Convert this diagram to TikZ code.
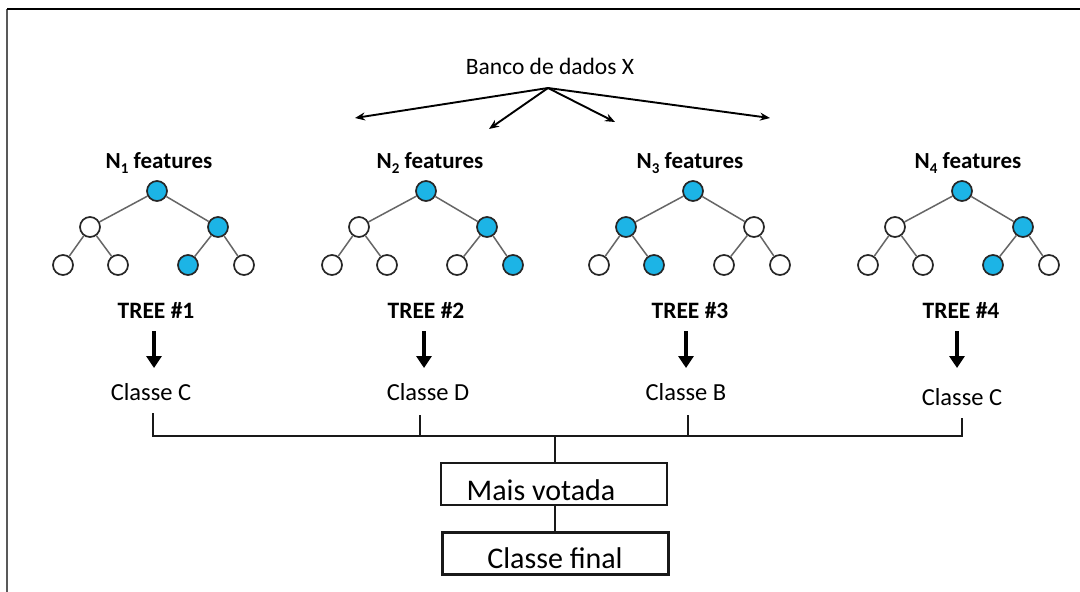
\documentclass[tikz,border=0pt]{standalone}
\usepackage{fontspec}
\setmainfont{Carlito}
\usetikzlibrary{arrows.meta}
\definecolor{nodeblue}{RGB}{28,180,230}
\tikzset{
  tn/.style={circle,draw=black!85,line width=1.7pt,minimum size=20pt,inner sep=0pt,fill=white},
  tb/.style={tn,fill=nodeblue},
  edge/.style={draw=black!60,line width=1.5pt},
  txt/.style={inner sep=0pt,anchor=base,font=\fontsize{24.5}{29}\selectfont},
  bigtxt/.style={inner sep=0pt,anchor=base,font=\fontsize{30}{36}\selectfont},
  ttl/.style={inner sep=0pt,anchor=base,font=\fontsize{23}{28}\selectfont\bfseries},
  treelbl/.style={inner sep=0pt,anchor=base,font=\fontsize{23.5}{28}\selectfont\bfseries},
  split/.style={draw=black,line width=1.9pt,-{Stealth[length=10pt,width=8pt]}},
  down/.style={draw=black,line width=3.5pt,-{Triangle[length=12pt,width=15pt]}},
  bus/.style={draw=black!90,line width=2.6pt},
  box/.style={draw=black!90,line width=2.6pt,minimum width=226pt,minimum height=42pt,inner sep=0pt}
}
\newcommand\sub[1]{\raisebox{-0.45ex}{\fontsize{15}{18}\selectfont #1}}
\newcommand\drawtree[9]{%
  \node[#3] (#1r) at (#2,191) {};
  \node[#4] (#1a) at ({#2-67},227) {};
  \node[#5] (#1b) at ({#2+61},227) {};
  \node[#6] (#1c) at ({#2-94},265) {};
  \node[#7] (#1d) at ({#2-39},265) {};
  \node[#8] (#1e) at ({#2+31},265) {};
  \node[#9] (#1f) at ({#2+87},265) {};
  \draw[edge] (#1r) -- (#1a);
  \draw[edge] (#1r) -- (#1b);
  \draw[edge] (#1a) -- (#1c);
  \draw[edge] (#1a) -- (#1d);
  \draw[edge] (#1b) -- (#1e);
  \draw[edge] (#1b) -- (#1f);
}
\begin{document}
\begin{tikzpicture}[x=1pt,y=-1pt]
\useasboundingbox (0,0) rectangle (1080,592);
\fill[white] (0,0) rectangle (1080,592);
% frame
\draw[line width=2.4pt,black!65] (7,592) -- (7,9);
\draw[line width=2.4pt,black] (7,9) -- (1080,9);

% source
\node[txt,font=\fontsize{23.5}{28}\selectfont] (banco) at (550,74) {Banco de dados X};
\coordinate (src) at (548,88);
\coordinate (e1) at (355,118);
\coordinate (e2) at (489,129);
\coordinate (e3) at (615,122);
\coordinate (e4) at (770,118);
\draw[split] (src) -- (e1);
\draw[split] (src) -- (e2);
\draw[split] (src) -- (e3);
\draw[split] (src) -- (e4);

% titles
\node[ttl] (n1) at (159,168) {N\sub{1} features};
\node[ttl] (n2) at (430,168) {N\sub{2} features};
\node[ttl] (n3) at (690,168) {N\sub{3} features};
\node[ttl] (n4) at (968,168) {N\sub{4} features};

% trees
\drawtree{ta}{157}{tb}{tn}{tb}{tn}{tn}{tb}{tn}
\drawtree{tbb}{426}{tb}{tn}{tb}{tn}{tn}{tn}{tb}
\drawtree{tc}{693}{tb}{tb}{tn}{tn}{tb}{tn}{tn}
\drawtree{td}{962}{tb}{tn}{tb}{tn}{tn}{tb}{tn}

% tree labels
\node[treelbl] (l1) at (156,318) {TREE \#1};
\node[treelbl] (l2) at (426,318) {TREE \#2};
\node[treelbl] (l3) at (690,318) {TREE \#3};
\node[treelbl] (l4) at (961,318) {TREE \#4};

% classes
\node[txt] (c1) at (151,400) {Classe C};
\node[txt] (c2) at (428,400) {Classe D};
\node[txt] (c3) at (686,400) {Classe B};
\node[txt] (c4) at (962,405) {Classe C};

% arrows down
\coordinate (a1) at (154,331);
\coordinate (a2) at (424,331);
\coordinate (a3) at (686,331);
\coordinate (a4) at (957,331);
\draw[down] (a1) -- (a1 |- 0,368);
\draw[down] (a2) -- (a2 |- 0,368);
\draw[down] (a3) -- (a3 |- 0,368);
\draw[down] (a4) -- (a4 |- 0,368);

% bus
\coordinate (v1) at (153,413);
\coordinate (v2) at (420,415);
\coordinate (v3) at (688,415);
\coordinate (v4) at (962,418);
\coordinate (hub) at (555,436);
\draw[bus] (v1) -- (v1 |- hub);
\draw[bus] (v2) -- (v2 |- hub);
\draw[bus] (v3) -- (v3 |- hub);
\draw[bus] (v4) -- (v4 |- hub);
\draw[bus,line cap=rect] (v1 |- hub) -- (v4 |- hub);

% boxes
\node[box] (m) at (554,484) {};
\node[bigtxt] (mt) at (541,500) {Mais votada};
\node[box] (f) at (555.5,553.5) {};
\node[bigtxt] (ft) at (555,568) {Classe final};
\draw[bus] (hub) -- (hub |- m.north);
\draw[bus] (hub |- m.south) -- (hub |- f.north);
\end{tikzpicture}
\end{document}
